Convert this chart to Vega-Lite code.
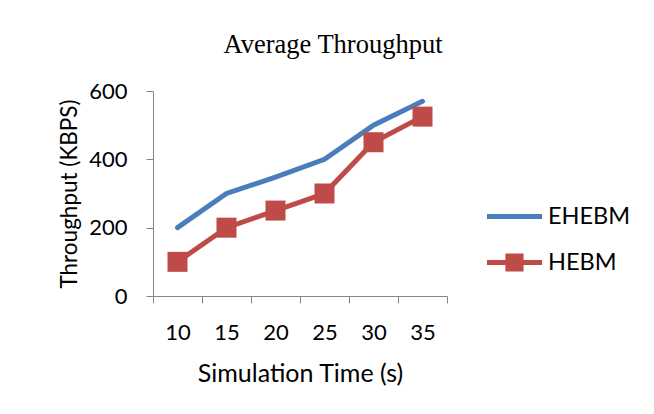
{
  "$schema": "https://vega.github.io/schema/vega-lite/v6.json",
  "autosize": {"type": "none"},
  "width": 294,
  "height": 205,
  "padding": {"left": 153, "top": 91, "right": 207, "bottom": 118},
  "background": "white",
  "title": {
    "text": "Average Throughput",
    "font": "Liberation Serif",
    "fontSize": 26.5,
    "fontWeight": "normal",
    "color": "black",
    "frame": "group",
    "anchor": "middle",
    "dx": 33,
    "offset": 1,
    "baseline": "alphabetic"
  },
  "data": {
    "values": [
      {"time": 10, "series": "EHEBM", "throughput": 200},
      {"time": 15, "series": "EHEBM", "throughput": 300},
      {"time": 20, "series": "EHEBM", "throughput": 348},
      {"time": 25, "series": "EHEBM", "throughput": 400},
      {"time": 30, "series": "EHEBM", "throughput": 500},
      {"time": 35, "series": "EHEBM", "throughput": 570},
      {"time": 10, "series": "HEBM", "throughput": 100},
      {"time": 15, "series": "HEBM", "throughput": 200},
      {"time": 20, "series": "HEBM", "throughput": 250},
      {"time": 25, "series": "HEBM", "throughput": 300},
      {"time": 30, "series": "HEBM", "throughput": 450},
      {"time": 35, "series": "HEBM", "throughput": 525}
    ]
  },
  "encoding": {
    "x": {
      "field": "time",
      "type": "ordinal",
      "scale": {"type": "band", "paddingInner": 0, "paddingOuter": 0},
      "axis": {
        "title": "Simulation Time (s)",
        "tickBand": "extent",
        "labelAngle": 0,
        "domainColor": "#868686",
        "tickColor": "#868686",
        "tickSize": 7,
        "labelFont": "Lato",
        "labelFontSize": 22,
        "labelColor": "black",
        "labelPadding": 19,
        "titleFont": "Lato",
        "titleFontSize": 25,
        "titleFontWeight": "normal",
        "titleColor": "black",
        "titlePadding": 18
      }
    },
    "y": {
      "field": "throughput",
      "type": "quantitative",
      "scale": {"domain": [0, 600], "nice": false},
      "axis": {
        "title": "Throughput (KBPS)",
        "values": [0, 200, 400, 600],
        "domainColor": "#868686",
        "tickColor": "#868686",
        "tickSize": 7,
        "labelFont": "Lato",
        "labelFontSize": 22,
        "labelColor": "black",
        "labelPadding": 19,
        "titleFont": "Lato",
        "titleFontSize": 22.5,
        "titleFontWeight": "normal",
        "titleColor": "black",
        "titlePadding": 7
      }
    },
    "color": {
      "field": "series",
      "type": "nominal",
      "scale": {"domain": ["EHEBM", "HEBM"], "range": ["#4A7EBB", "#BE4B48"]},
      "legend": {
        "title": null,
        "orient": "none",
        "legendX": 334,
        "legendY": 98,
        "labelFont": "Lato",
        "labelFontSize": 23.5,
        "labelColor": "black",
        "symbolSize": 3025,
        "labelOffset": 6,
        "rowPadding": 7,
        "encode": {
          "symbols": {
            "update": {
              "shape": {"signal": "datum.value === 'HEBM' ? 'M-1,-0.09H-0.33V-0.33H0.33V-0.09H1V0.09H0.33V0.33H-0.33V0.09H-1Z' : 'M-1,-0.09H1V0.09H-1Z'"},
              "fill": {"signal": "datum.value === 'HEBM' ? '#BE4B48' : '#4A7EBB'"},
              "strokeWidth": {"value": 0},
              "opacity": {"value": 1}
            }
          }
        }
      }
    }
  },
  "layer": [
    {"mark": {"type": "line", "strokeWidth": 5, "strokeCap": "round"}},
    {
      "transform": [{"filter": "datum.series === 'HEBM'"}],
      "mark": {"type": "point", "shape": "square", "filled": true, "size": 400, "opacity": 1}
    }
  ],
  "config": {"view": {"stroke": null}, "axis": {"grid": false}}
}
